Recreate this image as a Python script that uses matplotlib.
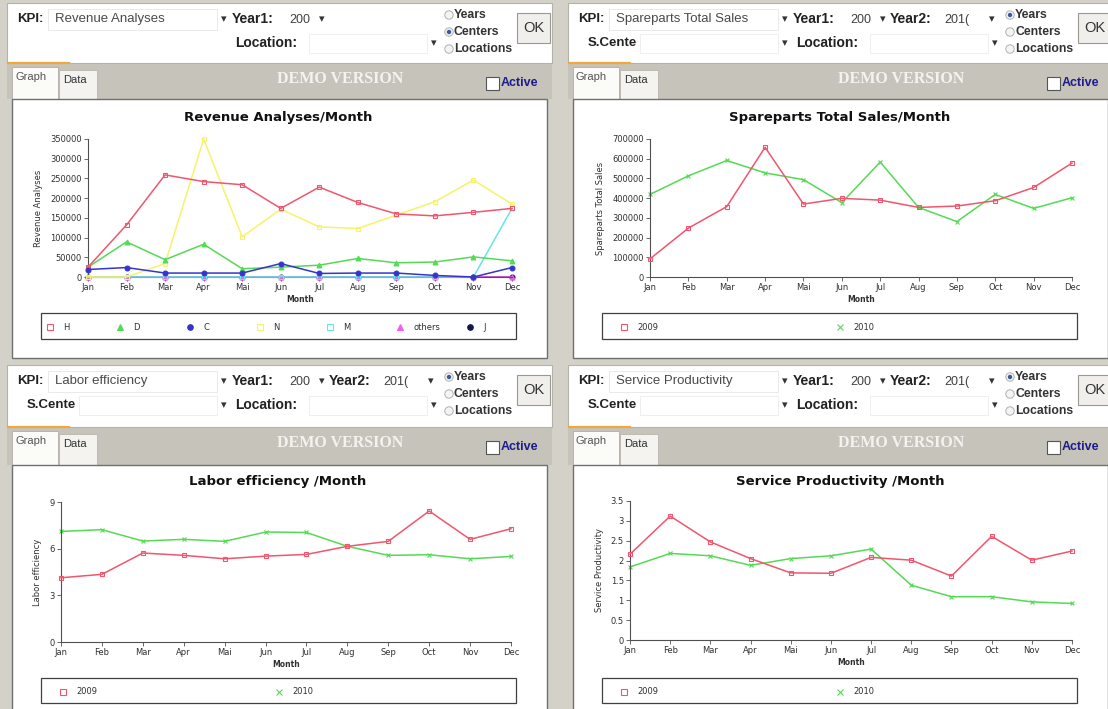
import matplotlib
matplotlib.use("Agg")
import matplotlib.pyplot as plt
from matplotlib.patches import Rectangle, Circle
from matplotlib.ticker import FormatStrFormatter

# ---------------- Data ----------------
months = ["Jan", "Feb", "Mar", "Apr", "Mai", "Jun", "Jul", "Aug", "Sep", "Oct", "Nov", "Dec"]

# Revenue Analyses per center (top left)
rev_labels = ["H", "D", "C", "N", "M", "others", "J"]
rev_h = [25000, 132000, 259000, 242000, 234000, 174000, 228000, 189000, 160000, 155000, 164000, 174000]
rev_d = [25000, 89000, 44000, 83000, 21000, 25000, 30000, 47000, 36000, 38000, 51000, 41000]
rev_c = [19000, 24000, 10000, 10000, 10000, 34000, 9000, 10000, 10000, 4000, 0, 24000]
rev_n = [0, 0, 34000, 350000, 102000, 172000, 127000, 123000, 157000, 191000, 246000, 185000]
rev_m = [0, 0, 0, 0, 0, 0, 0, 0, 0, 0, 0, 174000]
rev_others = [0, 0, 0, 0, 0, 0, 0, 0, 0, 0, 0, 0]
rev_j = [0, 0, 0, 0, 0, 0, 0, 0, 0, 0, 0, 0]

year_labels = ["2009", "2010"]

# Spareparts Total Sales (top right)
spare_2009 = [92000, 248000, 357000, 658000, 370000, 399000, 390000, 353000, 360000, 387000, 454000, 578000]
spare_2010 = [419000, 513000, 591000, 528000, 494000, 377000, 583000, 353000, 281000, 419000, 348000, 402000]

# Labor efficiency (bottom left)
labor_2009 = [4.13, 4.35, 5.72, 5.57, 5.35, 5.52, 5.63, 6.15, 6.47, 8.42, 6.6, 7.28]
labor_2010 = [7.11, 7.22, 6.49, 6.6, 6.47, 7.07, 7.04, 6.15, 5.57, 5.61, 5.35, 5.5]

# Service Productivity (bottom right)
serv_2009 = [2.16, 3.12, 2.47, 2.05, 1.69, 1.68, 2.08, 2.01, 1.61, 2.61, 2.01, 2.24]
serv_2010 = [1.84, 2.18, 2.12, 1.88, 2.05, 2.12, 2.29, 1.38, 1.09, 1.09, 0.96, 0.92]

# ---------------- Style ----------------
W, H = 1108, 709
UI_FONT = ["Liberation Sans", "DejaVu Sans"]
CHART_FONT = ["DejaVu Sans"]
FRAME = "#d4d1c9"
TABBAR = "#c6c3bb"
RED = "#f0566e"
GREEN = "#55da55"

fig = plt.figure(figsize=(W / 100, H / 100), dpi=100)
fig.patch.set_facecolor(FRAME)
bg = fig.add_axes([0, 0, 1, 1])
bg.set_xlim(0, W)
bg.set_ylim(H, 0)
bg.axis("off")


def rect(x0, y0, x1, y1, fc, ec="none", lw=0.8, z=1):
    bg.add_patch(Rectangle((x0, y0), x1 - x0, y1 - y0, facecolor=fc,
                           edgecolor=ec, linewidth=lw, zorder=z))


def label(x, y, s, size=10, bold=False, color="#222222", ha="left", family=UI_FONT, z=3):
    bg.text(x, y, s, fontsize=size, fontweight="bold" if bold else "normal",
            color=color, ha=ha, va="center", family=family, zorder=z)


def fig_rect(x0, y0, x1, y1):
    return [x0 / W, 1 - y1 / H, (x1 - x0) / W, (y1 - y0) / H]


# -------- Panel frame (form + tab bar + chart box) --------
def panel(ox, oy, bar_y, box_y, box_bottom, kpi, two_years, checked):
    pw = 545
    rect(ox, oy, ox + pw, bar_y, "white", "#b5b2aa")
    bg.plot([ox + 1, ox + 62], [bar_y, bar_y], color="#f2a73c", lw=1.6, zorder=2)

    r1, r2 = oy + 16, oy + 40
    label(ox + 10, r1, "KPI:", 9.5, True)
    rect(ox + 41, oy + 6, ox + 210, oy + 27, "white", "#e6e6e6", 0.6, 2)
    label(ox + 48, r1, kpi, 9.5, color="#4a4a4a")
    label(ox + 214, r1, "▾", 8, color="#333333")
    label(ox + 225, r1, "Year1:", 10, True)
    label(ox + 282, r1 + 1, "200", 9, color="#404040")
    label(ox + 312, r1, "▾", 8, color="#333333")
    if two_years:
        label(ox + 322, r1, "Year2:", 10, True)
        label(ox + 376, r1 + 1, "201(", 9, color="#404040")
        label(ox + 421, r1, "▾", 8, color="#333333")
        label(ox + 20, r2, "S.Cente", 9.5, True)
        rect(ox + 72, oy + 31, ox + 210, oy + 50, "white", "#ececec", 0.6, 2)
        label(ox + 214, r2, "▾", 8, color="#333333")
    label(ox + 228, r2, "Location:", 10, True)
    rect(ox + 302, oy + 31, ox + 420, oy + 50, "white", "#ececec", 0.6, 2)
    label(ox + 424, r2, "▾", 8, color="#333333")

    for i, name in enumerate(["Years", "Centers", "Locations"]):
        cy = oy + 12 + i * 17
        bg.add_patch(Circle((ox + 442, cy), 4.2, facecolor="#f4f4f4",
                            edgecolor="#b0b0b0", lw=0.7, zorder=3))
        if name == checked:
            bg.add_patch(Circle((ox + 442, cy), 2.2, facecolor="#3a5a9a", zorder=4))
        label(ox + 447, cy, name, 8.8, True, "#333333")

    rect(ox + 510, oy + 10, ox + 543, oy + 40, "#f0efeb", "#9a9890", 0.8, 2)
    label(ox + 526.5, oy + 25, "OK", 10.5, color="#333333", ha="center")

    # tab bar
    rect(ox, bar_y + 1, ox + pw, box_y, TABBAR)
    rect(ox + 5, bar_y + 4, ox + 51, box_y + 1, "#fbfbf8", "#b0ada5", 0.6, 2)
    label(ox + 8, bar_y + 14, "Graph", 8, color="#555555")
    rect(ox + 52, bar_y + 7, ox + 90, box_y, "#f4f3ef", "#b8b5ad", 0.6, 2)
    label(ox + 56, bar_y + 17, "Data", 8, color="#333333")
    label(ox + 333, bar_y + 16, "DEMO VERSION", 11.5, True, "#f3f2ee", "center",
          ["Liberation Serif", "DejaVu Serif"])
    rect(ox + 479, bar_y + 14, ox + 492, bar_y + 27, "white", "#555555", 0.8, 2)
    label(ox + 494, bar_y + 20, "Active", 9, True, "#1c1c8a")

    # chart box
    rect(ox + 5, box_y, ox + 540, box_bottom, "white", "#707070", 1.0, 2)


# -------- Chart inside a box --------
def chart(px, py, ylim, yticks, fmt, title, tx, ty, ylabel, series, lbox, lstart, lstep):
    ax = fig.add_axes(fig_rect(px[0], py[0], px[1], py[1]))
    ax.patch.set_alpha(0)
    x = list(range(len(months)))
    for vals, name, color, mk, mfc, z, pos in series:
        ax.plot(x, vals, color=color, lw=1.1, marker=mk, ms=3.5, mfc=mfc,
                mec=color, mew=0.8, zorder=z, clip_on=False)
    ax.set_xlim(0, len(months) - 1)
    ax.set_ylim(*ylim)
    ax.set_xticks(x)
    ax.set_xticklabels(months)
    ax.set_yticks(yticks)
    ax.yaxis.set_major_formatter(FormatStrFormatter(fmt))
    for s in ["top", "right"]:
        ax.spines[s].set_visible(False)
    for s in ["left", "bottom"]:
        ax.spines[s].set_color("#505050")
        ax.spines[s].set_linewidth(0.8)
    ax.tick_params(labelsize=6, length=3, width=0.6, pad=1.5, colors="#505050",
                   labelcolor="#303030")
    for t in ax.get_xticklabels() + ax.get_yticklabels():
        t.set_family(CHART_FONT)
    ax.set_xlabel("Month", fontsize=5.5, fontweight="bold", labelpad=2,
                  family=CHART_FONT, color="#303030")
    ax.set_ylabel(ylabel, fontsize=6, labelpad=5, family=CHART_FONT, color="#303030")

    label(tx, ty, title, 9.5, True, "#111111", "center", CHART_FONT)

    # legend box with its entries in a row
    rect(lbox[0], lbox[1], lbox[2], lbox[3], "white", "#404040", 0.9, 2)
    my = (lbox[1] + lbox[3]) / 2 + 1
    ordered = sorted(series, key=lambda s: s[6])
    for i, (vals, name, color, mk, mfc, z, pos) in enumerate(ordered):
        mx = lbox[0] + lstart + i * lstep
        bg.plot([mx], [my], ls="none", marker=mk, ms=4, color=color, mfc=mfc,
                mec=color, mew=0.8, zorder=4)
        label(mx + 13, my, name, 6, color="#303030", family=CHART_FONT, z=4)
    return ax


# -------- Panels --------
panel(7, 3, 63, 99, 358, "Revenue Analyses", False, "Centers")
panel(568, 3, 63, 99, 358, "Spareparts Total Sales", True, "Years")
panel(7, 365, 427, 465, 715, "Labor efficiency", True, "Years")
panel(568, 365, 427, 465, 715, "Service Productivity", True, "Years")

# (values, name, colour, marker, face, zorder, legend position)
rev_series = [
    (rev_j, rev_labels[6], "#151550", "o", "#151550", 1, 6),
    (rev_others, rev_labels[5], "#f060f0", "^", "#f060f0", 2, 5),
    (rev_m, rev_labels[4], "#66e6e6", "s", "none", 3, 4),
    (rev_n, rev_labels[3], "#f4f468", "s", "none", 4, 3),
    (rev_d, rev_labels[1], GREEN, "^", GREEN, 5, 1),
    (rev_h, rev_labels[0], RED, "s", "none", 6, 0),
    (rev_c, rev_labels[2], "#3535cc", "o", "#3535cc", 7, 2),
]

chart((88, 512), (139, 277), (0, 350000), range(0, 350001, 50000), "%d",
      "Revenue Analyses/Month", 278, 118, "Revenue Analyses", rev_series,
      (41, 313, 516, 339), 9, 70)


def two(a, b):
    return [(a, year_labels[0], RED, "s", "none", 3, 0),
            (b, year_labels[1], GREEN, "x", GREEN, 2, 1)]


chart((650, 1072), (139, 277), (0, 700000), range(0, 700001, 100000), "%d",
      "Spareparts Total Sales/Month", 840, 118, "Spareparts Total Sales",
      two(spare_2009, spare_2010), (602, 313, 1077, 339), 22, 216)

chart((61, 511), (502, 642), (0, 9), [0, 3, 6, 9], "%g",
      "Labor efficiency /Month", 278, 481, "Labor efficiency",
      two(labor_2009, labor_2010), (41, 678, 516, 703), 22, 216)

chart((630, 1072), (501, 640), (0, 3.5), [0, 0.5, 1, 1.5, 2, 2.5, 3, 3.5], "%g",
      "Service Productivity /Month", 840, 481, "Service Productivity",
      two(serv_2009, serv_2010), (602, 678, 1077, 703), 22, 216)

fig.savefig("out.png", dpi=100, facecolor=fig.get_facecolor())
